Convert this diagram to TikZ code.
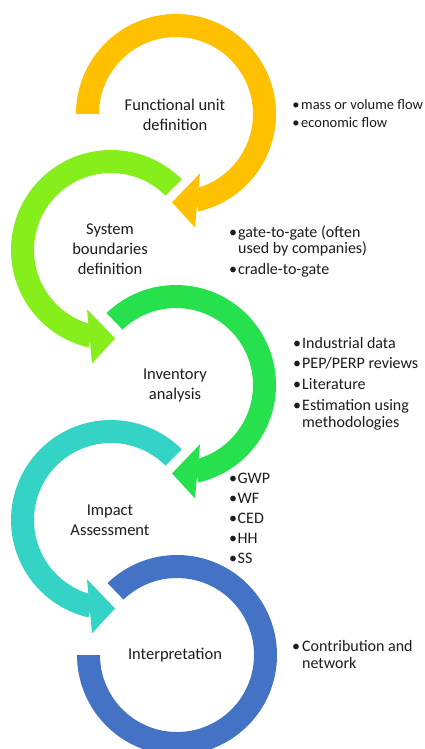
\documentclass[tikz,border=0pt]{standalone}
\usepackage{fontspec}
\setmainfont{Carlito}
\definecolor{cyel}{HTML}{FFC000}
\definecolor{clime}{HTML}{86EE1A}
\definecolor{cgreen}{HTML}{26E04E}
\definecolor{cteal}{HTML}{35D3C6}
\definecolor{cblue}{HTML}{4472C4}
\definecolor{txt}{HTML}{1C1C1C}
\tikzset{
  lbl/.style={align=center, font=\fontsize{16.5}{20}\selectfont, text=txt, inner sep=0pt},
  bul/.style={anchor=base, font=\fontsize{16}{19}\selectfont, text=txt, inner sep=0pt},
  itm/.style={anchor=base west, font=\fontsize{16}{19}\selectfont, text=txt, inner sep=0pt},
  bulsm/.style={bul, font=\fontsize{14.5}{17}\selectfont},
  itmsm/.style={itm, font=\fontsize{14.5}{17}\selectfont},
}
% clockwise ring: body from a1 down to -77, head pointing down-left
\newcommand{\cwring}[4]{%
  \begin{scope}[shift={(#1,#2)}]
    \fill[#4] (#3:100) arc[start angle=#3, end angle=-77, radius=100]
      -- (-77:77) arc[start angle=-77, end angle=#3, radius=77] -- cycle;
    \fill[#4] (-68:64) -- (-92.6:88.5) -- (-80.5:115) -- cycle;
  \end{scope}}
% counter-clockwise ring: body from 45 up to 257, head pointing down-right
\newcommand{\ccwring}[3]{%
  \begin{scope}[shift={(#1,#2)}]
    \fill[#3] (45:100) arc[start angle=45, end angle=257, radius=100]
      -- (257:77) arc[start angle=257, end angle=45, radius=77] -- cycle;
    \fill[#3] (248:64) -- (272.6:88.5) -- (260.5:115) -- cycle;
  \end{scope}}
\begin{document}
\begin{tikzpicture}[x=1pt,y=1pt]
\useasboundingbox (0,0) rectangle (425,-749);
\fill[white] (0,0) rectangle (425,-749);

\cwring{176}{-114}{180}{cyel}
\ccwring{111}{-250}{clime}
\cwring{176}{-385}{134}{cgreen}
\ccwring{111}{-520}{cteal}
\begin{scope}[shift={(177,-655)}]
  \fill[cblue] (134:100) arc[start angle=134, end angle=-180, radius=100]
    -- (180:77) arc[start angle=-180, end angle=134, radius=77] -- cycle;
\end{scope}

% central labels
\node[lbl] (l1) at (175,-115) {Functional unit\\definition};
\node[lbl] (l2) at (110,-249) {System\\boundaries\\definition};
\node[lbl] (l3) at (175,-386) {Inventory\\analysis};
\node[lbl] (l4) at (110,-520) {Impact\\Assessment};
\node[lbl] (l5) at (175,-655) {Interpretation};

% list 1
\node[bulsm] (b11) at (296,-110) {•};
\node[itmsm] (t11) at (301,-110) {mass or volume flow};
\node[bulsm] (b12) at (296,-128) {•};
\node[itmsm] (t12) at (301,-128) {economic flow};

% list 2
\node[bul] (b21) at (233,-237) {•};
\node[itm] (t21) at (238,-237) {gate-to-gate (often};
\node[itm] (t21b) at (238,-253) {used by companies)};
\node[bul] (b22) at (233,-274) {•};
\node[itm] (t22) at (238,-274) {cradle-to-gate};

% list 3
\node[bul] (b31) at (297,-348) {•};
\node[itm] (t31) at (302,-348) {Industrial data};
\node[bul] (b32) at (297,-368) {•};
\node[itm] (t32) at (302,-368) {PEP/PERP reviews};
\node[bul] (b33) at (297,-389) {•};
\node[itm] (t33) at (302,-389) {Literature};
\node[bul] (b34) at (297,-410) {•};
\node[itm] (t34) at (302,-410) {Estimation using};
\node[itm] (t34b) at (302,-427) {methodologies};

% list 4
\node[bul] (b41) at (233,-483) {•};
\node[itm] (t41) at (237.5,-483) {GWP};
\node[bul] (b42) at (233,-503) {•};
\node[itm] (t42) at (237.5,-503) {WF};
\node[bul] (b43) at (233,-523) {•};
\node[itm] (t43) at (237.5,-523) {CED};
\node[bul] (b44) at (233,-543) {•};
\node[itm] (t44) at (237.5,-543) {HH};
\node[bul] (b45) at (233,-563) {•};
\node[itm] (t45) at (237.5,-563) {SS};

% list 5
\node[bul] (b51) at (296,-651) {•};
\node[itm] (t51) at (302,-651) {Contribution and};
\node[itm] (t51b) at (302,-668) {network};
\end{tikzpicture}
\end{document}
